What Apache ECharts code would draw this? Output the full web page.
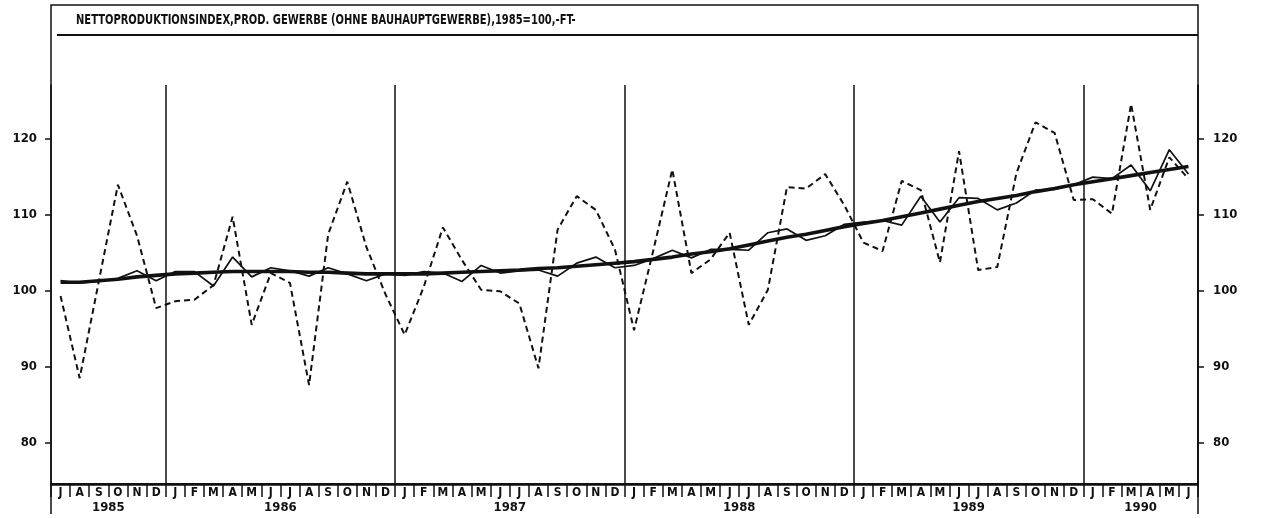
<!DOCTYPE html>
<html>
<head>
<meta charset="utf-8">
<title>Nettoproduktionsindex</title>
<script src="https://cdn.jsdelivr.net/npm/echarts@6/dist/echarts.min.js"></script>
<style>
  html, body { margin: 0; padding: 0; background: #fff; }
  #chart { width: 1268px; height: 518px; }
</style>
</head>
<body>
<div id="chart"></div>
<script>
// Monate Juli 1985 bis Juni 1990
const monthLetters = [
  'J', 'A', 'S', 'O', 'N', 'D',
  'J', 'F', 'M', 'A', 'M', 'J', 'J', 'A', 'S', 'O', 'N', 'D',
  'J', 'F', 'M', 'A', 'M', 'J', 'J', 'A', 'S', 'O', 'N', 'D',
  'J', 'F', 'M', 'A', 'M', 'J', 'J', 'A', 'S', 'O', 'N', 'D',
  'J', 'F', 'M', 'A', 'M', 'J', 'J', 'A', 'S', 'O', 'N', 'D',
  'J', 'F', 'M', 'A', 'M', 'J'
]
const yearLabels = ['1985', '1986', '1987', '1988', '1989', '1990']
const yearLabelAt = [3, 12, 24, 36, 48, 57]   // Mitte des Jahres in Monaten
const yTicks = [80, 90, 100, 110, 120]
const titleText = 'NETTOPRODUKTIONSINDEX,PROD. GEWERBE (OHNE BAUHAUPTGEWERBE),1985=100,-FT-'

// Originalwerte (gestrichelt)
const rawIndex = [
  99.3, 88.5, 101.2, 113.9, 107.2, 97.7,
  98.6, 98.8, 100.7, 109.7, 95.5, 102.3, 101.0, 87.6, 107.4, 114.3, 105.7, 99.5,
  94.2, 100.5, 108.3, 104.0, 100.1, 99.9, 98.3, 89.8, 108.0, 112.4, 110.6, 105.4,
  94.8, 105.2, 115.9, 102.3, 104.1, 107.6, 95.5, 100.1, 113.6, 113.4, 115.3, 111.2,
  106.3, 105.2, 114.4, 113.2, 103.7, 118.3, 102.7, 103.1, 115.4, 122.1, 120.7, 111.9,
  112.0, 110.1, 124.5, 110.6, 117.5, 114.7
]
// saisonbereinigt (dünn)
const adjusted = [
  101.3, 101.0, 101.2, 101.6, 102.6, 101.3,
  102.5, 102.5, 100.6, 104.4, 101.8, 103.0, 102.6, 101.9, 103.0, 102.2, 101.3, 102.2,
  102.0, 102.5, 102.3, 101.2, 103.3, 102.3, 102.6, 102.7, 101.9, 103.6, 104.4, 103.0,
  103.3, 104.2, 105.3, 104.3, 105.4, 105.4, 105.3, 107.6, 108.1, 106.6, 107.2, 108.7,
  109.0, 109.2, 108.6, 112.4, 109.0, 112.2, 112.1, 110.6, 111.5, 113.2, 113.3, 113.9,
  114.9, 114.7, 116.5, 113.1, 118.5, 115.3
]
// Trend (dick)
const trend = [
  101.1, 101.1, 101.3, 101.5, 101.8, 102.0,
  102.2, 102.3, 102.4, 102.5, 102.5, 102.5, 102.5, 102.4, 102.4, 102.3, 102.2, 102.2,
  102.2, 102.2, 102.3, 102.4, 102.5, 102.6, 102.7, 102.9, 103.0, 103.2, 103.4, 103.6,
  103.8, 104.1, 104.4, 104.8, 105.1, 105.5, 106.0, 106.5, 107.0, 107.4, 107.9, 108.4,
  108.8, 109.2, 109.7, 110.2, 110.7, 111.2, 111.7, 112.1, 112.5, 113.0, 113.4, 113.9,
  114.3, 114.7, 115.1, 115.5, 115.9, 116.3
]

const font = "'Liberation Sans Narrow', 'DejaVu Sans Condensed', 'Liberation Sans', sans-serif"
const ink = '#111'

let chart = echarts.init(document.getElementById('chart'))

let labelStyle = {
  color: ink,
  fontFamily: font,
  fontWeight: 'bold',
  fontSize: 13
}

let yAxisBase = {
  type: 'value',
  min: 74.6,
  max: 127,
  axisLine: {show: true, lineStyle: {color: ink, width: 1.5}},
  axisTick: {show: true, length: 6, lineStyle: {color: ink, width: 1.5}, customValues: yTicks},
  axisLabel: Object.assign({customValues: yTicks}, labelStyle),
  splitLine: {show: false}
}

let option = {
  backgroundColor: '#fff',
  animation: false,
  grid: {left: 51, right: 70, top: 85, bottom: 34},
  xAxis: [
    {
      type: 'category',
      data: monthLetters,
      boundaryGap: true,
      axisLine: {show: true, lineStyle: {color: ink, width: 2}},
      axisTick: {show: true, interval: 0, length: 13, lineStyle: {color: ink, width: 1.5}},
      axisLabel: Object.assign({interval: 0, margin: 3}, labelStyle, {fontSize: 12}),
      // Jahrestrennlinien vor jedem Januar
      splitLine: {
        show: true,
        interval: (index) => index % 12 === 6,
        lineStyle: {color: ink, width: 1.5}
      }
    },
    {
      type: 'value',
      min: 0,
      max: 60,
      position: 'bottom',
      axisLine: {show: false},
      axisTick: {show: false},
      splitLine: {show: false},
      axisLabel: Object.assign({
        customValues: yearLabelAt,
        margin: 17,
        formatter: (v) => yearLabels[yearLabelAt.indexOf(v)] || ''
      }, labelStyle)
    }
  ],
  yAxis: [
    Object.assign({}, yAxisBase, {position: 'left', axisLabel: Object.assign({}, yAxisBase.axisLabel, {margin: 14})}),
    Object.assign({}, yAxisBase, {position: 'right', axisLabel: Object.assign({}, yAxisBase.axisLabel, {margin: 15})})
  ],
  series: [
    {
      name: 'Original',
      type: 'line',
      data: rawIndex,
      symbol: 'none',
      lineStyle: {color: ink, width: 2, type: [6, 4]},
      z: 2
    },
    {
      name: 'Saisonbereinigt',
      type: 'line',
      data: adjusted,
      symbol: 'none',
      lineStyle: {color: ink, width: 1.7},
      z: 3
    },
    {
      name: 'Trend',
      type: 'line',
      data: trend,
      symbol: 'none',
      lineStyle: {color: ink, width: 3.6},
      z: 4
    }
  ],
  // Rahmen mit Titelfeld oben
  graphic: [
    {type: 'rect', shape: {x: 51, y: 5, width: 1147, height: 480}, style: {fill: null, stroke: ink, lineWidth: 1.5}, silent: true},
    {type: 'line', shape: {x1: 57, y1: 35, x2: 1198, y2: 35}, style: {stroke: ink, lineWidth: 2}, silent: true},
    {type: 'line', shape: {x1: 51, y1: 485, x2: 51, y2: 514}, style: {stroke: ink, lineWidth: 1.5}, silent: true},
    {type: 'line', shape: {x1: 1198, y1: 485, x2: 1198, y2: 514}, style: {stroke: ink, lineWidth: 1.5}, silent: true},
    {
      type: 'text', x: 76, y: 13, scaleX: 0.79, silent: true,
      style: {text: titleText, fill: ink, fontFamily: font, fontWeight: 'bold', fontSize: 14}
    }
  ]
}

chart.setOption(option)
</script>
</body>
</html>
